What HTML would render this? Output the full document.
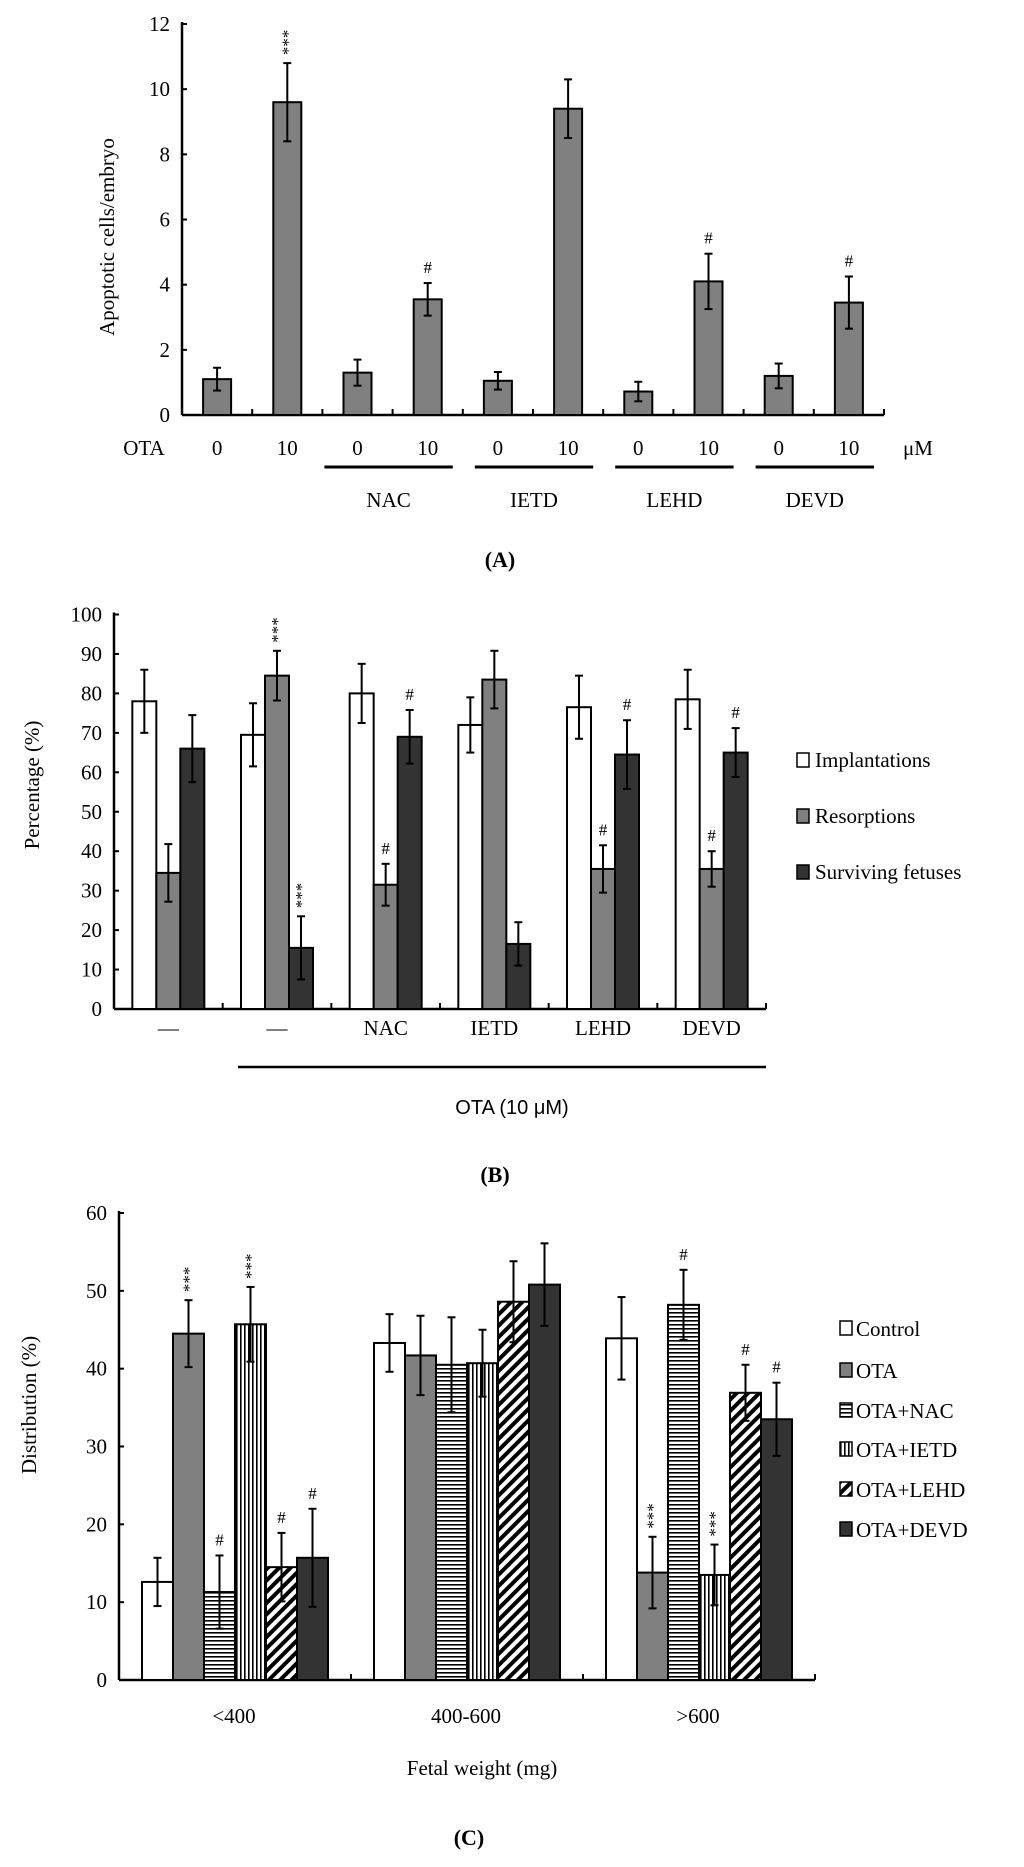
<!DOCTYPE html>
<html><head><meta charset="utf-8"><style>
html,body{margin:0;padding:0;background:#fff}
svg{display:block}
text{font-family:"Liberation Serif",serif;fill:#000}
</style></head><body>
<svg id="fig" width="1024" height="1867" viewBox="0 0 1024 1867">
<defs>
<pattern id="hz" width="6" height="4" patternUnits="userSpaceOnUse"><rect width="6" height="4" fill="#fff"/><rect y="0" width="6" height="1.6" fill="#000"/></pattern>
<pattern id="vt" width="4" height="6" patternUnits="userSpaceOnUse"><rect width="4" height="6" fill="#fff"/><rect x="0" width="1.6" height="6" fill="#000"/></pattern>
<pattern id="dg" width="8" height="8" patternUnits="userSpaceOnUse" patternTransform="rotate(45)"><rect width="8" height="8" fill="#fff"/><rect x="0" width="4" height="8" fill="#000"/></pattern>
</defs>
<g id="pa"></g>
<g id="pb"></g>
<g id="pc"></g>
</svg>
<script>
// Panel A data
const aDose = ['0','10','0','10','0','10','0','10','0','10'];
const aValues = [1.1,9.6,1.3,3.55,1.05,9.4,0.72,4.1,1.2,3.45];
const aErr = [0.35,1.2,0.4,0.5,0.27,0.9,0.3,0.85,0.38,0.8];
const aMarks = ['','***','','#','','','','#','','#'];
const aTicks = [0,2,4,6,8,10,12];
const aGroups = ['NAC','IETD','LEHD','DEVD'];
// Panel B data
const bCategories = ['—','—','NAC','IETD','LEHD','DEVD'];
const bSeries = ['Implantations','Resorptions','Surviving fetuses'];
const bImpl = [78,69.5,80,72,76.5,78.5];
const bImplErr = [8,8,7.5,7,8,7.5];
const bResorp = [34.5,84.5,31.5,83.5,35.5,35.5];
const bResorpErr = [7.3,6.3,5.3,7.3,6,4.5];
const bSurv = [66,15.5,69,16.5,64.5,65];
const bSurvErr = [8.5,8,6.8,5.5,8.7,6.2];
const bImplMarks = ['','','','','',''];
const bResorpMarks = ['','***','#','','#','#'];
const bSurvMarks = ['','***','#','','#','#'];
const bTicks = [0,10,20,30,40,50,60,70,80,90,100];
// Panel C data
const cCategories = ['<400','400-600','>600'];
const cSeries = ['Control','OTA','OTA+NAC','OTA+IETD','OTA+LEHD','OTA+DEVD'];
const cControl = [12.6,43.3,43.9];
const cOTA = [44.5,41.7,13.8];
const cNAC = [11.3,40.5,48.2];
const cIETD = [45.7,40.7,13.5];
const cLEHD = [14.5,48.6,36.9];
const cDEVD = [15.7,50.8,33.5];
const cControlErr = [3.1,3.7,5.3];
const cOTAErr = [4.3,5.1,4.6];
const cNACErr = [4.7,6.1,4.5];
const cIETDErr = [4.8,4.3,3.9];
const cLEHDErr = [4.4,5.2,3.6];
const cDEVDErr = [6.3,5.3,4.7];
const cMarks = [['','',''],['***','','***'],['#','','#'],['***','','***'],['#','','#'],['#','','#']];
const cTicks = [0,10,20,30,40,50,60];

const NS='http://www.w3.org/2000/svg';
function el(p,tag,at,txt){const e=document.createElementNS(NS,tag);for(const k in at)e.setAttribute(k,at[k]);if(txt!==undefined)e.textContent=txt;p.appendChild(e);return e;}
function line(p,x1,y1,x2,y2,w){return el(p,'line',{x1,y1,x2,y2,stroke:'#000','stroke-width':w||2});}
function errbar(p,cx,yTop,yBot){
  const g=el(p,'g',{});
  
  
  line(g,cx,yTop,cx,yBot,2);line(g,cx-4,yTop,cx+4,yTop,2);line(g,cx-4,yBot,cx+4,yBot,2);
}
function mark(p,cx,y,m){
  if(!m)return;
  if(m==='***'){const t=el(p,'text',{x:cx,y:y,'font-size':17,'text-anchor':'start',transform:`rotate(-90 ${cx} ${y})`,dy:6,fill:'#333'},'***');
    }
  else{const t=el(p,'text',{x:cx,y:y-2,'font-size':17,'text-anchor':'middle',fill:'#333'},m);
    }
}

// ===== Panel A =====
(function(){
  const g=document.getElementById('pa');
  const x0=182,x1=884,y0=415,ymax=12,yTop=24;
  const Y=v=>y0-(v/ymax)*(y0-yTop);
  const slot=(x1-x0)/aValues.length;
  line(g,x0,y0,x1,y0,2.5);line(g,x0,yTop-2,x0,y0,2.5);
  aTicks.forEach(t=>{line(g,x0,Y(t),x0+5,Y(t),2);const tx=el(g,'text',{x:x0-12,y:Y(t)+7,'font-size':21,'text-anchor':'end'},t);
    });
  for(let i=0;i<=aValues.length;i++)line(g,x0+i*slot,y0,x0+i*slot,y0-6,2);
  aValues.forEach((v,i)=>{
    const cx=x0+(i+0.5)*slot;
    const r=el(g,'rect',{x:cx-14,y:Y(v),width:28,height:y0-Y(v),fill:'#808080',stroke:'#000','stroke-width':2});
    
    errbar(g,cx,Y(v+aErr[i]),Y(v-aErr[i]));
    mark(g,cx,Y(v+aErr[i])-8,aMarks[i]);
    const t=el(g,'text',{x:cx,y:455,'font-size':21,'text-anchor':'middle'},aDose[i]);
    
  });
  const ota=el(g,'text',{x:144,y:455,'font-size':21,'text-anchor':'middle'},'OTA');
  
  const um=el(g,'text',{x:918,y:455,'font-size':21,'text-anchor':'middle'},'μM');
  
  aGroups.forEach((n,k)=>{
    const i=2+2*k;const xa=x0+i*slot+ (k===0?-10:0), xb=x0+(i+2)*slot-10;
    line(g,xa+12,467,xb,467,3);
    const t=el(g,'text',{x:(xa+12+xb)/2,y:507,'font-size':21,'text-anchor':'middle'},n);
    
  });
  const yl=el(g,'text',{x:108,y:237,'font-size':21,'text-anchor':'middle',transform:'rotate(-90 108 237)',dy:6},'Apoptotic cells/embryo');
  
  const pl=el(g,'text',{x:500,y:567,'font-size':22,'font-weight':'bold','text-anchor':'middle'},'(A)');
  
})();

// ===== Panel B =====
(function(){
  const g=document.getElementById('pb');
  const x0=114,x1=766,y0=1009,yTop=614.5,ymax=100;
  const Y=v=>y0-(v/ymax)*(y0-yTop);
  const slot=(x1-x0)/bCategories.length;
  line(g,x0,y0,x1,y0,2.5);line(g,x0,yTop-2,x0,y0,2.5);
  bTicks.forEach(t=>{line(g,x0,Y(t),x0+5,Y(t),2);const tx=el(g,'text',{x:x0-12,y:Y(t)+7,'font-size':21,'text-anchor':'end'},t);
    });
  for(let i=0;i<=bCategories.length;i++)line(g,x0+i*slot,y0,x0+i*slot,y0-6,2);
  const series=[[bImpl,bImplErr,bImplMarks,'#fff'],[bResorp,bResorpErr,bResorpMarks,'#808080'],[bSurv,bSurvErr,bSurvMarks,'#333']];
  const bw=24;
  bCategories.forEach((c,i)=>{
    const gc=x0+(i+0.5)*slot;
    series.forEach((s,j)=>{
      const cx=gc+(j-1)*bw;const v=s[0][i],e=s[1][i];
      const r=el(g,'rect',{x:cx-bw/2,y:Y(v),width:bw,height:y0-Y(v),fill:s[3],stroke:'#000','stroke-width':2});
      
      errbar(g,cx,Y(v+e),Y(v-e));
      mark(g,cx,Y(v+e)-8,s[2][i]);
    });
    const t=el(g,'text',{x:gc,y:1035,'font-size':21,'text-anchor':'middle'},c);
    
  });
  line(g,238,1067,766,1067,2.5);
  const ot=el(g,'text',{x:512,y:1114,'font-size':20,'text-anchor':'middle','font-family':'Liberation Sans, sans-serif',style:'font-family:"Liberation Sans",sans-serif'},'OTA (10 μM)');
  
  bSeries.forEach((n,j)=>{
    const yc=[760,816,872][j];
    const lg=el(g,'g',{});
    
    el(lg,'rect',{x:797,y:yc-7,width:12,height:14,fill:series[j][3],stroke:'#000','stroke-width':1.5});
    el(lg,'text',{x:815,y:yc+7,'font-size':21},n);
  });
  const yl=el(g,'text',{x:33,y:785,'font-size':21,'text-anchor':'middle',transform:'rotate(-90 33 785)',dy:6},'Percentage (%)');
  
  const pl=el(g,'text',{x:495,y:1182,'font-size':22,'font-weight':'bold','text-anchor':'middle'},'(B)');
  
})();

// ===== Panel C =====
(function(){
  const g=document.getElementById('pc');
  const x0=119,x1=815,y0=1680,yTop=1213,ymax=60;
  const Y=v=>y0-(v/ymax)*(y0-yTop);
  const slot=(x1-x0)/cCategories.length;
  line(g,x0,y0,x1,y0,2.5);line(g,x0,yTop-2,x0,y0,2.5);
  cTicks.forEach(t=>{line(g,x0,Y(t),x0+5,Y(t),2);const tx=el(g,'text',{x:x0-12,y:Y(t)+7,'font-size':21,'text-anchor':'end'},t);
    });
  for(let i=0;i<=cCategories.length;i++)line(g,x0+i*slot,y0,x0+i*slot,y0-6,2);
  const vals=[cControl,cOTA,cNAC,cIETD,cLEHD,cDEVD];
  const errs=[cControlErr,cOTAErr,cNACErr,cIETDErr,cLEHDErr,cDEVDErr];
  const fills=['#fff','#808080','url(#hz)','url(#vt)','url(#dg)','#333'];
  const bw=31;
  cCategories.forEach((c,i)=>{
    const gc=x0+(i+0.5)*slot;
    vals.forEach((s,j)=>{
      const cx=gc+(j-2.5)*bw;const v=s[i],e=errs[j][i];
      const r=el(g,'rect',{x:cx-bw/2,y:Y(v),width:bw,height:y0-Y(v),fill:fills[j],stroke:'#000','stroke-width':2});
      
      errbar(g,cx,Y(v+e),Y(v-e));
      mark(g,cx,Y(v+e)-8,cMarks[j][i]);
    });
    const t=el(g,'text',{x:gc-1,y:1723,'font-size':21,'text-anchor':'middle'},c);
    
  });
  const xt=el(g,'text',{x:482,y:1775,'font-size':21,'text-anchor':'middle'},'Fetal weight (mg)');
  
  cSeries.forEach((n,j)=>{
    const yc=[1328,1370,1410,1449,1489,1529][j];
    const lg=el(g,'g',{});
    
    el(lg,'rect',{x:840,y:yc-7,width:12,height:14,fill:fills[j],stroke:'#000','stroke-width':1.5});
    el(lg,'text',{x:856,y:yc+8,'font-size':21},n);
  });
  const yl=el(g,'text',{x:30,y:1405,'font-size':21,'text-anchor':'middle',transform:'rotate(-90 30 1405)',dy:6},'Distribution (%)');
  
  const pl=el(g,'text',{x:469,y:1845,'font-size':22,'font-weight':'bold','text-anchor':'middle'},'(C)');
  
})();
</script>
</body></html>
